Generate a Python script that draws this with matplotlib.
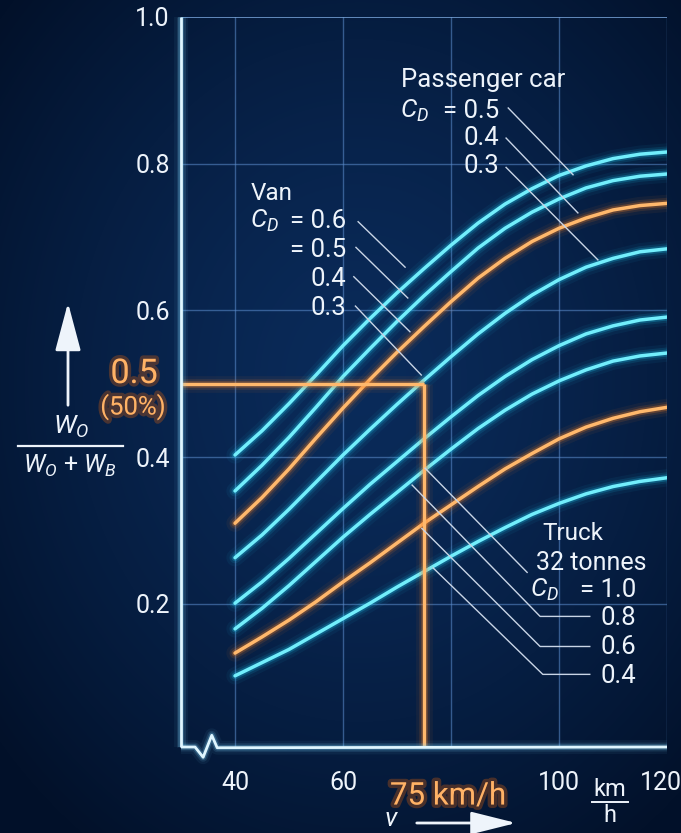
import numpy as np
import matplotlib
matplotlib.use("Agg")
import matplotlib.pyplot as plt
import matplotlib.patheffects as pe
import matplotlib.transforms as mtransforms

# ---------------- data ----------------
speed_kmh = [40, 45, 50, 55, 60, 65, 70, 75, 80, 85, 90, 95, 100, 105, 110, 115, 120]

curve_1 = [0.403, 0.436, 0.473, 0.512, 0.552, 0.589, 0.624, 0.657, 0.689, 0.719, 0.745, 0.766, 0.784, 0.797, 0.807, 0.813, 0.816]
curve_2 = [0.354, 0.389, 0.427, 0.468, 0.510, 0.548, 0.585, 0.620, 0.653, 0.685, 0.712, 0.734, 0.752, 0.767, 0.777, 0.783, 0.786]
curve_3 = [0.310, 0.345, 0.384, 0.426, 0.467, 0.506, 0.543, 0.578, 0.612, 0.644, 0.671, 0.694, 0.712, 0.726, 0.737, 0.743, 0.746]
curve_4 = [0.263, 0.294, 0.329, 0.366, 0.403, 0.438, 0.472, 0.505, 0.537, 0.568, 0.596, 0.621, 0.642, 0.659, 0.671, 0.680, 0.684]
curve_5 = [0.201, 0.230, 0.262, 0.296, 0.330, 0.363, 0.394, 0.425, 0.455, 0.484, 0.510, 0.533, 0.552, 0.568, 0.579, 0.587, 0.591]
curve_6 = [0.166, 0.194, 0.225, 0.258, 0.291, 0.322, 0.352, 0.382, 0.411, 0.439, 0.464, 0.486, 0.504, 0.519, 0.531, 0.538, 0.542]
curve_7 = [0.133, 0.155, 0.178, 0.203, 0.230, 0.256, 0.283, 0.310, 0.335, 0.360, 0.384, 0.405, 0.425, 0.441, 0.453, 0.462, 0.468]
curve_8 = [0.102, 0.120, 0.138, 0.159, 0.180, 0.201, 0.223, 0.244, 0.265, 0.285, 0.304, 0.322, 0.337, 0.350, 0.360, 0.367, 0.372]
curves = [curve_1, curve_2, curve_3, curve_4, curve_5, curve_6, curve_7, curve_8]
curve_kind = ["cyan", "cyan", "orange", "cyan", "cyan", "cyan", "orange", "cyan"]

x_ticks = [40, 60, 100, 120]
x_tick_labels = ["40", "60", "100", "120"]
y_ticks = [0.2, 0.4, 0.6, 0.8, 1.0]
y_tick_labels = ["0.2", "0.4", "0.6", "0.8", "1.0"]

ref_speed = 75
ref_ratio = 0.5

car_cd = ["= 0.5", "0.4", "0.3"]
van_cd = ["= 0.6", "= 0.5", "0.4", "0.3"]
truck_cd = ["= 1.0", "0.8", "0.6", "0.4"]

# ---------------- style ----------------
plt.rcParams["font.family"] = ["Roboto", "DejaVu Sans"]
plt.rcParams["mathtext.fontset"] = "custom"
plt.rcParams["mathtext.rm"] = "Roboto"
plt.rcParams["mathtext.it"] = "Roboto:italic"

WHITE = "#eef4fb"
CYAN_CORE, CYAN_HALO = "#72eefc", "#1cc4ec"
OR_CORE, OR_HALO = "#ffb86c", "#ff8420"
GRID = "#5d8fd0"
LEADER = "#c9d5e6"

W, H = 681, 833
fig = plt.figure(figsize=(W / 100, H / 100), dpi=100)


def fx(x):
    return x / W


def fy(y):
    return 1 - y / H


# background gradient
bg = fig.add_axes([0, 0, 1, 1])
bg.axis("off")
yy, xx = np.mgrid[0:H, 0:W]
r = np.sqrt(((xx - 360) / 470.0) ** 2 + ((yy - 380) / 560.0) ** 2)
t = np.clip(r, 0, 1)[..., None] ** 1.4
c_center = np.array([10, 43, 90]) / 255.0
c_edge = np.array([2, 17, 42]) / 255.0
bg.imshow(c_center * (1 - t) + c_edge * t, extent=[0, 1, 0, 1], aspect="auto", zorder=0)
bg.set_xlim(0, 1)
bg.set_ylim(0, 1)

# main axes
ax = fig.add_axes([181 / W, (H - 747) / H, 486 / W, 730 / H])
ax.set_facecolor("none")
ax.set_xlim(30, 120)
ax.set_ylim(0.005, 1.0)
for s in ax.spines.values():
    s.set_visible(False)


def glow(x, y, core, halo, lw=2.2, z=3, clip=True, capstyle="round"):
    for w, a in [(lw * 5.0, 0.06), (lw * 3.2, 0.12), (lw * 2.0, 0.25)]:
        ax.plot(x, y, color=halo, lw=w, alpha=a, solid_capstyle=capstyle,
                solid_joinstyle="round", zorder=z, clip_on=clip)
    ax.plot(x, y, color=core, lw=lw, solid_capstyle=capstyle,
            solid_joinstyle="round", zorder=z + 0.1, clip_on=clip)


# grid
for v in [40, 60, 80, 100, 120]:
    ax.axvline(v, color=GRID, lw=1.0, alpha=0.55, zorder=1)
for yv in [0.2, 0.4, 0.6, 0.8]:
    ax.axhline(yv, color=GRID, lw=1.0, alpha=0.55, zorder=1)
ax.axhline(1.0, color="#7aa6dc", lw=1.4, alpha=0.8, zorder=1)

# axis lines (left + bottom with break mark)
glow([30, 30], [0.005, 1.0], "#dff6ff", "#7fd8ff", lw=2.0, z=4, clip=False, capstyle="butt")
bx = [30, 32.6, 34.1, 35.7, 36.7, 120]
by = [0.005, 0.005, -0.009, 0.021, 0.004, 0.005]
glow(bx, by, "#dff6ff", "#7fd8ff", lw=2.0, z=4, clip=False, capstyle="butt")

# curves
for c, kind in zip(curves, curve_kind):
    if kind == "cyan":
        glow(speed_kmh, c, CYAN_CORE, CYAN_HALO, lw=2.5, z=3)
    else:
        glow(speed_kmh, c, OR_CORE, OR_HALO, lw=2.5, z=3)

# reference lines
glow([30, ref_speed], [ref_ratio, ref_ratio], OR_CORE, OR_HALO, lw=2.4, z=3.5, clip=False, capstyle="butt")
glow([ref_speed, ref_speed], [0.005, ref_ratio], OR_CORE, OR_HALO, lw=2.4, z=3.5, clip=False, capstyle="butt")

# ticks
ax.set_xticks(x_ticks)
ax.set_xticklabels(x_tick_labels)
ax.set_yticks(y_ticks)
ax.set_yticklabels(y_tick_labels)
ax.tick_params(axis="both", length=0, colors=WHITE, labelsize=18)
ax.tick_params(axis="x", pad=17)
ax.tick_params(axis="y", pad=8)
# nudge the last x label so it stays inside the canvas
last = ax.get_xticklabels()[-1]
last.set_transform(last.get_transform() + mtransforms.ScaledTranslation(-6 / 100, 0, fig.dpi_scale_trans))

# leader lines (data coordinates)
leaders = [
    [(90.6, 0.876), (102.6, 0.785)],
    [(90.2, 0.835), (103.5, 0.733)],
    [(90.2, 0.795), (107.2, 0.669)],
    [(62.8, 0.721), (71.5, 0.659)],
    [(62.4, 0.686), (72.0, 0.617)],
    [(62.0, 0.646), (72.4, 0.571)],
    [(62.3, 0.606), (74.5, 0.512)],
    [(75.2, 0.385), (94.1, 0.243)],
    [(72.8, 0.362), (96.5, 0.183), (105.7, 0.183)],
    [(74.6, 0.303), (96.5, 0.142), (105.7, 0.142)],
    [(76.7, 0.249), (97.0, 0.104), (105.7, 0.104)],
]
for pts in leaders:
    xs, ys = zip(*pts)
    ax.plot(xs, ys, color=LEADER, lw=1.0, zorder=5, clip_on=False)

# ---------------- texts ----------------
def ftext(x, y, s, size=16, color=WHITE, ha="left", va="baseline", **kw):
    return fig.text(fx(x), fy(y), s, fontsize=size, color=color, ha=ha, va=va, zorder=10, **kw)


# Passenger car
ftext(401, 87, "Passenger car", size=18.5)
ftext(400, 118, r"$C_D$", size=18.5)
ftext(499, 118, car_cd[0], size=18.5, ha="right")
ftext(499, 145, car_cd[1], size=18.5, ha="right")
ftext(499, 173, car_cd[2], size=18.5, ha="right")

# Van
ftext(251, 200, "Van", size=17.5)
ftext(250, 228, r"$C_D$", size=18.5)
ftext(346, 228, van_cd[0], size=18.5, ha="right")
ftext(346, 257, van_cd[1], size=18.5, ha="right")
ftext(346, 286, van_cd[2], size=18.5, ha="right")
ftext(346, 315, van_cd[3], size=18.5, ha="right")

# Truck
ftext(542, 540, "Truck", size=17.5)
ftext(536, 570, "32 tonnes", size=18)
ftext(530, 597, r"$C_D$", size=18.5)
ftext(636, 597, truck_cd[0], size=18.5, ha="right")
ftext(636, 625, truck_cd[1], size=18.5, ha="right")
ftext(636, 654, truck_cd[2], size=18.5, ha="right")
ftext(636, 683, truck_cd[3], size=18.5, ha="right")

# orange highlight labels
orange_fx = [pe.withStroke(linewidth=5, foreground="#c85a10", alpha=0.35)]
ftext(134, 374, "0.5", size=24.5, color="#ffb266", ha="center", va="center", path_effects=orange_fx)
ftext(133, 407, "(50%)", size=18.5, color="#ffb266", ha="center", va="center", path_effects=orange_fx)
ftext(448, 796, "75 km/h", size=22.5, color="#ffb266", ha="center", va="center", path_effects=orange_fx)

# km/h unit fraction
ftext(610, 789, "km", size=17, ha="center", va="center")
fig.add_artist(plt.Line2D([fx(592), fx(628)], [fy(802), fy(802)], color=WHITE, lw=1.4))
ftext(610, 816, "h", size=17, ha="center", va="center")

# y-axis quantity label
ftext(71, 427, r"$W_O$", size=19, ha="center", va="center")
fig.add_artist(plt.Line2D([fx(18), fx(123)], [fy(446), fy(446)], color=WHITE, lw=1.6))
ftext(70, 466, r"$W_O$ + $W_B$", size=18, ha="center", va="center")

# arrows
fig.add_artist(matplotlib.patches.FancyArrowPatch(
    (fx(68), fy(408)), (fx(68), fy(300)), transform=fig.transFigure,
    arrowstyle="-|>,head_length=1.5,head_width=0.4", mutation_scale=20,
    color=WHITE, lw=2.0))
ftext(391, 819, r"$v$", size=19, ha="center", va="center")
fig.add_artist(matplotlib.patches.FancyArrowPatch(
    (fx(414), fy(823)), (fx(519), fy(823)), transform=fig.transFigure,
    arrowstyle="-|>,head_length=1.4,head_width=0.35", mutation_scale=20,
    color=WHITE, lw=2.0))

fig.savefig("out.png", dpi=100, facecolor=fig.get_facecolor())
